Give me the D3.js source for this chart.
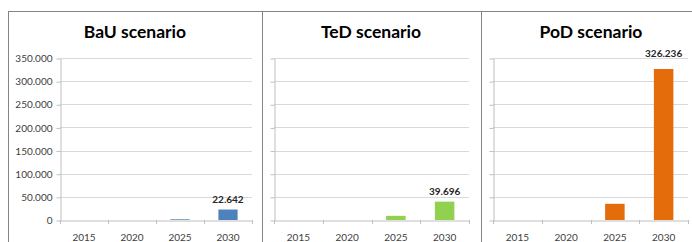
<!DOCTYPE html>
<html>
<head>
<meta charset="utf-8">
<script src="https://cdn.jsdelivr.net/npm/d3@7"></script>
<style>
  body { margin: 0; background: #fff; }
  svg { display: block; }
</style>
</head>
<body>
<script>
const years = ["2015", "2020", "2025", "2030"]
const bau = [0, 0, 1500, 22642]
const ted = [0, 0, 9000, 39696]
const pod = [0, 0, 35000, 326236]
const titles = ["BaU scenario", "TeD scenario", "PoD scenario"]
const colors = ["#4f81bd", "#92d050", "#e46c0a"]
const yTicks = [0, 50000, 100000, 150000, 200000, 250000, 300000, 350000]

const w = 692
const h = 242
const font = "Lato, 'Liberation Sans', sans-serif"

// panel boxes: frame left, frame right, plot left, plot right, title center
const panels = [
  {x0: 8, x1: 262, pl: 60, pr: 252, tc: 135},
  {x0: 262, x1: 481, pl: 274, pr: 469, tc: 371},
  {x0: 481, x1: 700, pl: 493, pr: 688, tc: 591}
]
const series = [bau, ted, pod]
const plotTop = 58, plotBottom = 220

const svg = d3.select("body").append("svg")
  .attr("width", w)
  .attr("height", h)

const y = d3.scaleLinear().domain([0, 350000]).range([plotBottom, plotTop])
const fmt = d3.formatLocale({decimal: ",", thousands: ".", grouping: [3], currency: ["", ""]}).format(",d")

panels.forEach((p, k) => {
  const g = svg.append("g")
  const x = d3.scaleBand().domain(years).range([p.pl, p.pr]).paddingInner(0.6).paddingOuter(0.3)

  // frame
  g.append("line").attr("x1", p.x0 + 0.5).attr("x2", p.x0 + 0.5).attr("y1", 11).attr("y2", h)
    .attr("stroke", "#858585")
  g.append("line").attr("x1", p.x0).attr("x2", p.x1).attr("y1", 11.5).attr("y2", 11.5)
    .attr("stroke", "#858585")

  g.append("text")
    .attr("x", p.tc).attr("y", 38)
    .attr("text-anchor", "middle")
    .style("font-family", font)
    .style("font-weight", "bold")
    .style("font-size", "17.5px")
    .attr("fill", "#000")
    .text(titles[k])

  // gridlines
  g.selectAll(".grid").data(yTicks.slice(1)).enter().append("line")
    .attr("x1", p.pl).attr("x2", p.pr)
    .attr("y1", d => Math.round(y(d)) + 0.5).attr("y2", d => Math.round(y(d)) + 0.5)
    .attr("stroke", "#d9d9d9")

  // y axis
  const ya = g.append("g").attr("transform", `translate(${p.pl + 0.5},0.5)`)
    .call(d3.axisLeft(y).tickValues(yTicks).tickSize(4).tickSizeOuter(0)
      .tickFormat(k === 0 ? fmt : ""))
  ya.select(".domain").attr("stroke", "#bfbfbf")
  ya.selectAll(".tick line").attr("stroke", "#bfbfbf")
  ya.selectAll(".tick text").attr("x", -8)
    .style("font-family", font).style("font-size", "10px").attr("fill", "#404040")

  // bars
  g.selectAll(".bar").data(series[k]).enter().append("rect")
    .attr("x", (d, i) => x(years[i]))
    .attr("y", d => y(d))
    .attr("width", x.bandwidth())
    .attr("height", d => plotBottom - y(d))
    .attr("fill", colors[k])

  // x axis
  const xa = g.append("g").attr("transform", `translate(0,${plotBottom + 0.5})`)
    .call(d3.axisBottom(x).tickSize(0))
  xa.select(".domain").attr("stroke", "#bfbfbf")
  xa.selectAll(".tick text").attr("y", 13)
    .style("font-family", font).style("font-size", "10px").attr("fill", "#404040")
  const step = (p.pr - p.pl) / years.length
  g.selectAll(".xt").data(d3.range(years.length + 1)).enter().append("line")
    .attr("x1", i => Math.round(p.pl + i * step) + 0.5)
    .attr("x2", i => Math.round(p.pl + i * step) + 0.5)
    .attr("y1", plotBottom).attr("y2", plotBottom + 4)
    .attr("stroke", "#bfbfbf")

  // value label on last bar, pushed above the plot when the bar is tall
  const last = series[k].length - 1
  const v = series[k][last]
  let ly = y(v) - 7
  if (ly < plotTop + 8) ly = plotTop - 1
  g.append("text")
    .attr("x", x(years[last]) + x.bandwidth() / 2)
    .attr("y", ly)
    .attr("text-anchor", "middle")
    .style("font-family", font)
    .style("font-weight", "bold")
    .style("font-size", "10px")
    .attr("fill", "#262626")
    .text(fmt(v))
})
</script>
</body>
</html>
